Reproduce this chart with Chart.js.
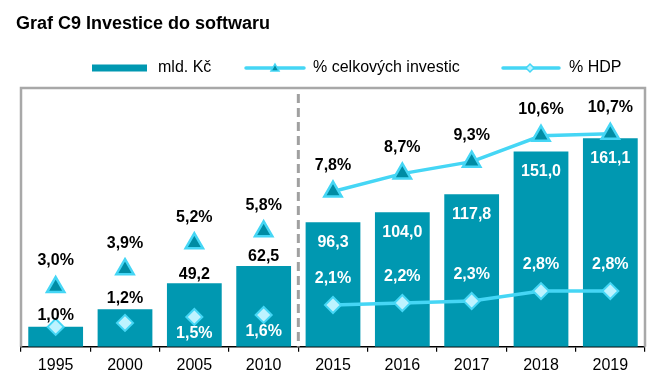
<!DOCTYPE html>
<html>
<head>
<meta charset="utf-8">
<script src="https://cdn.jsdelivr.net/npm/chart.js@4.4.1/dist/chart.umd.min.js"></script>
<style>
  html, body { margin: 0; padding: 0; background: #fff; }
  #wrap { width: 670px; height: 377px; position: relative; }
</style>
</head>
<body>
<div id="wrap"><canvas id="Software-Chart"></canvas></div>
<script>
const years = ["1995", "2000", "2005", "2010", "2015", "2016", "2017", "2018", "2019"];

// mld. Kč
const softwareBn = [15.5, 29.0, 49.2, 62.5, 96.3, 104.0, 117.8, 151.0, 161.1];
// % celkových investic
const shareInvest = [3.0, 3.9, 5.2, 5.8, 7.8, 8.7, 9.3, 10.6, 10.7];
// % HDP
const shareGdp = [1.0, 1.2, 1.5, 1.6, 2.1, 2.2, 2.3, 2.8, 2.8];

const barColor = "#0098B1";
const lineColor = "#45D6F5";
const triFill = "#008CA4";
const diaFill = "#BDF3FF";

Chart.defaults.font.family = "'Liberation Sans', Arial, sans-serif";

// first 4 years are 5-year steps, not joined by the line
const firstYearly = 4;

function fmt(v) {
  return v.toFixed(1).replace(".", ",");
}

const hideEarly = (ctx) => (ctx.p0DataIndex < firstYearly ? "rgba(0,0,0,0)" : undefined);

const data = {
  labels: years,
  datasets: [
    {
      label: "mld. Kč",
      type: "bar",
      data: softwareBn,
      backgroundColor: barColor,
      yAxisID: "yBn",
      barPercentage: 0.79,
      categoryPercentage: 1,
      order: 3,
    },
    {
      label: "% celkových investic",
      type: "line",
      data: shareInvest,
      yAxisID: "yPct",
      borderColor: lineColor,
      borderWidth: 3.5,
      pointStyle: "triangle",
      pointRadius: 10,
      pointBorderWidth: 2.5,
      pointBackgroundColor: triFill,
      pointBorderColor: lineColor,
      segment: { borderColor: hideEarly },
      order: 1,
    },
    {
      label: "% HDP",
      type: "line",
      data: shareGdp,
      yAxisID: "yPct",
      borderColor: lineColor,
      borderWidth: 3.5,
      pointStyle: "rectRot",
      pointRadius: 8,
      pointBorderWidth: 2,
      pointBackgroundColor: diaFill,
      pointBorderColor: lineColor,
      segment: { borderColor: hideEarly },
      order: 2,
    },
  ],
};

// frame, dashed divider, title, legend and value labels
const decor = {
  id: "decor",
  beforeDatasetsDraw(chart) {
    const { ctx, chartArea: a, scales } = chart;
    ctx.save();
    ctx.strokeStyle = "#A8A8A8";
    ctx.lineWidth = 2.5;
    ctx.beginPath();
    ctx.moveTo(a.left, a.bottom);
    ctx.lineTo(a.left, a.top);
    ctx.lineTo(a.right, a.top);
    ctx.lineTo(a.right, a.bottom);
    ctx.stroke();

    const x = scales.x;
    const xd = (x.getPixelForValue(firstYearly - 1) + x.getPixelForValue(firstYearly)) / 2;
    ctx.strokeStyle = "#A0A0A0";
    ctx.lineWidth = 3;
    ctx.setLineDash([9, 5]);
    ctx.beginPath();
    ctx.moveTo(xd, a.top + 6);
    ctx.lineTo(xd, a.bottom);
    ctx.stroke();
    ctx.restore();
  },
  afterDatasetsDraw(chart) {
    const { ctx } = chart;
    const bars = chart.getDatasetMeta(0).data;
    const tris = chart.getDatasetMeta(1).data;
    const dias = chart.getDatasetMeta(2).data;

    ctx.save();
    ctx.font = "bold 16px 'Liberation Sans', Arial, sans-serif";
    ctx.textAlign = "center";
    ctx.textBaseline = "middle";

    years.forEach((y, i) => {
      // bar values
      if (i >= 2) {
        const b = bars[i];
        if (i < firstYearly) {
          ctx.fillStyle = "#000";
          ctx.fillText(fmt(softwareBn[i]), b.x, b.y - 9);
        } else {
          ctx.fillStyle = "#fff";
          ctx.fillText(fmt(softwareBn[i]), b.x, b.y + 20);
        }
      }
      // % investic
      ctx.fillStyle = "#000";
      ctx.fillText(fmt(shareInvest[i]) + "%", tris[i].x, tris[i].y - 26);
      // % HDP
      const d = dias[i];
      if (i < 2) {
        ctx.fillStyle = "#000";
        ctx.fillText(fmt(shareGdp[i]) + "%", d.x, bars[i].y - 11);
      } else if (i < firstYearly) {
        ctx.fillStyle = "#fff";
        ctx.fillText(fmt(shareGdp[i]) + "%", d.x, d.y + 17);
      } else {
        ctx.fillStyle = "#fff";
        ctx.fillText(fmt(shareGdp[i]) + "%", d.x, d.y - 26);
      }
    });
    ctx.restore();
  },
  afterDraw(chart) {
    const { ctx } = chart;
    ctx.save();
    // title
    ctx.fillStyle = "#000";
    ctx.font = "bold 18px 'Liberation Sans', Arial, sans-serif";
    ctx.textBaseline = "alphabetic";
    ctx.fillText("Graf C9 Investice do softwaru", 16, 29);

    // legend
    const ly = 68;
    ctx.font = "16px 'Liberation Sans', Arial, sans-serif";
    ctx.textBaseline = "middle";
    ctx.fillStyle = barColor;
    ctx.fillRect(92, ly - 3.5, 55, 7);
    ctx.fillStyle = "#000";
    ctx.fillText("mld. Kč", 158, ly);

    ctx.strokeStyle = lineColor;
    ctx.lineWidth = 3.5;
    ctx.lineCap = "round";
    ctx.beginPath();
    ctx.moveTo(246, ly);
    ctx.lineTo(304, ly);
    ctx.stroke();
    ctx.lineWidth = 1.5;
    ctx.fillStyle = triFill;
    ctx.beginPath();
    ctx.moveTo(275, ly - 4);
    ctx.lineTo(279, ly + 3);
    ctx.lineTo(271, ly + 3);
    ctx.closePath();
    ctx.fill();
    ctx.stroke();
    ctx.fillStyle = "#000";
    ctx.fillText("% celkových investic", 313, ly);

    ctx.lineWidth = 3.5;
    ctx.beginPath();
    ctx.moveTo(503, ly);
    ctx.lineTo(559, ly);
    ctx.stroke();
    ctx.lineWidth = 1.5;
    ctx.fillStyle = diaFill;
    ctx.beginPath();
    ctx.moveTo(530, ly - 4);
    ctx.lineTo(534, ly);
    ctx.lineTo(530, ly + 4);
    ctx.lineTo(526, ly);
    ctx.closePath();
    ctx.fill();
    ctx.stroke();
    ctx.fillStyle = "#000";
    ctx.fillText("% HDP", 569, ly);
    ctx.restore();
  },
};

const config = {
  type: "bar",
  data: data,
  options: {
    responsive: true,
    maintainAspectRatio: false,
    animation: false,
    layout: { padding: { left: 21, right: 25, top: 88, bottom: -2 } },
    plugins: {
      legend: { display: false },
      title: { display: false },
      tooltip: { enabled: false },
    },
    scales: {
      x: {
        offset: true,
        grid: {
          drawOnChartArea: false,
          drawTicks: true,
          tickLength: 5,
          color: "#000",
          lineWidth: 1.2,
        },
        border: { display: true, color: "#000", width: 1.5 },
        ticks: { color: "#000", padding: 4, font: { size: 16 } },
      },
      yBn: { display: false, min: 0, max: 200 },
      yPct: { display: false, min: 0, max: 13 },
    },
  },
  plugins: [decor],
};

let myChart = new Chart(document.getElementById("Software-Chart"), config);
</script>
</body>
</html>
